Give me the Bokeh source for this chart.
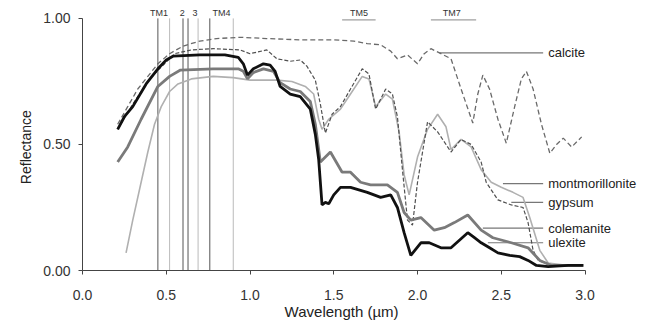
from bokeh.plotting import figure
from bokeh.models import Range1d, FixedTicker, NumeralTickFormatter, Label
from bokeh.embed import file_html
from bokeh.resources import INLINE

# ---------------- data ----------------
calcite_x = [0.21, 0.27, 0.33, 0.39, 0.45, 0.52, 0.60, 0.70, 0.80, 0.95, 1.10, 1.30, 1.50, 1.62, 1.70, 1.78, 1.84, 1.88, 1.94, 2.00, 2.04, 2.08, 2.14, 2.20, 2.26, 2.33, 2.36, 2.39, 2.43, 2.48, 2.53, 2.58, 2.62, 2.65, 2.69, 2.74, 2.79, 2.83, 2.87, 2.92, 2.98]
calcite_y = [0.58, 0.65, 0.72, 0.77, 0.82, 0.86, 0.89, 0.91, 0.92, 0.925, 0.92, 0.915, 0.915, 0.91, 0.90, 0.895, 0.87, 0.84, 0.855, 0.82, 0.86, 0.88, 0.86, 0.84, 0.72, 0.585, 0.70, 0.775, 0.72, 0.60, 0.505, 0.65, 0.76, 0.79, 0.72, 0.58, 0.465, 0.50, 0.525, 0.49, 0.53]

gypsum_x = [0.21, 0.30, 0.40, 0.49, 0.55, 0.65, 0.78, 0.94, 1.00, 1.10, 1.16, 1.24, 1.30, 1.34, 1.39, 1.42, 1.45, 1.49, 1.54, 1.60, 1.67, 1.71, 1.75, 1.81, 1.85, 1.88, 1.91, 1.94, 1.97, 2.00, 2.06, 2.12, 2.20, 2.26, 2.32, 2.38, 2.41, 2.48, 2.56, 2.63, 2.66, 2.69, 2.72, 2.80, 2.98]
gypsum_y = [0.56, 0.66, 0.76, 0.82, 0.86, 0.875, 0.88, 0.875, 0.86, 0.875, 0.84, 0.83, 0.835, 0.81, 0.755, 0.66, 0.545, 0.62, 0.65, 0.72, 0.80, 0.78, 0.64, 0.72, 0.70, 0.61, 0.40, 0.20, 0.18, 0.35, 0.59, 0.55, 0.47, 0.52, 0.50, 0.43, 0.35, 0.28, 0.26, 0.25, 0.19, 0.08, 0.04, 0.02, 0.02]

montm_x = [0.26, 0.30, 0.35, 0.39, 0.43, 0.47, 0.52, 0.57, 0.65, 0.78, 0.90, 1.00, 1.16, 1.25, 1.33, 1.38, 1.41, 1.43, 1.47, 1.54, 1.60, 1.67, 1.71, 1.75, 1.81, 1.85, 1.89, 1.92, 1.95, 2.00, 2.06, 2.12, 2.17, 2.20, 2.26, 2.32, 2.38, 2.44, 2.50, 2.57, 2.63, 2.67, 2.73, 2.78, 2.90, 2.98]
montm_y = [0.07, 0.20, 0.35, 0.47, 0.58, 0.65, 0.71, 0.74, 0.76, 0.77, 0.765, 0.755, 0.755, 0.75, 0.73, 0.70, 0.60, 0.56, 0.60, 0.64, 0.70, 0.77, 0.76, 0.65, 0.70, 0.68, 0.55, 0.38, 0.30, 0.45, 0.56, 0.62, 0.57, 0.48, 0.52, 0.49, 0.40, 0.35, 0.33, 0.31, 0.29, 0.21, 0.08, 0.03, 0.02, 0.02]

ulexite_x = [0.21, 0.25, 0.30, 0.38, 0.45, 0.50, 0.54, 0.70, 0.85, 0.93, 0.96, 0.985, 1.02, 1.08, 1.12, 1.15, 1.18, 1.24, 1.30, 1.36, 1.39, 1.41, 1.43, 1.45, 1.47, 1.50, 1.54, 1.60, 1.70, 1.78, 1.84, 1.88, 1.92, 1.96, 2.02, 2.07, 2.14, 2.20, 2.25, 2.30, 2.34, 2.38, 2.43, 2.48, 2.55, 2.61, 2.66, 2.71, 2.78, 2.90, 2.99]
ulexite_y = [0.56, 0.61, 0.65, 0.74, 0.80, 0.835, 0.85, 0.855, 0.855, 0.845, 0.82, 0.775, 0.80, 0.82, 0.815, 0.79, 0.73, 0.70, 0.69, 0.64, 0.54, 0.44, 0.26, 0.27, 0.265, 0.30, 0.33, 0.33, 0.31, 0.29, 0.30, 0.25, 0.15, 0.06, 0.11, 0.11, 0.09, 0.09, 0.12, 0.15, 0.13, 0.11, 0.09, 0.07, 0.06, 0.055, 0.04, 0.02, 0.015, 0.02, 0.02]

colem_x = [0.21, 0.27, 0.35, 0.45, 0.52, 0.585, 0.78, 0.93, 0.96, 0.985, 1.02, 1.08, 1.14, 1.18, 1.24, 1.30, 1.36, 1.39, 1.42, 1.45, 1.48, 1.55, 1.60, 1.66, 1.72, 1.82, 1.88, 1.92, 1.96, 2.02, 2.10, 2.16, 2.22, 2.30, 2.38, 2.45, 2.56, 2.66, 2.73, 2.80, 2.99]
colem_y = [0.43, 0.49, 0.60, 0.73, 0.77, 0.795, 0.80, 0.80, 0.79, 0.76, 0.785, 0.80, 0.79, 0.745, 0.72, 0.71, 0.67, 0.58, 0.43, 0.45, 0.47, 0.39, 0.39, 0.35, 0.34, 0.34, 0.31, 0.23, 0.20, 0.21, 0.16, 0.17, 0.19, 0.22, 0.16, 0.13, 0.11, 0.09, 0.04, 0.02, 0.02]

# TM band edges (um) and whether drawn dark
band_edges = [0.45, 0.52, 0.60, 0.63, 0.69, 0.76, 0.90]
band_dark = [True, False, True, True, False, True, False]
band_labels = ["TM1", "2", "3", "TM4", "TM5", "TM7"]
band_label_x = [0.457, 0.595, 0.672, 0.83, 1.65, 2.205]
swir_bar_x0 = [1.55, 2.08]
swir_bar_x1 = [1.75, 2.35]

mineral_names = ["calcite", "montmorillonite", "gypsum", "colemanite", "ulexite"]
leader_y = [0.863, 0.345, 0.27, 0.168, 0.11]
leader_x0 = [2.13, 2.51, 2.56, 2.39, 2.42]
leader_x1 = [2.75, 2.75, 2.75, 2.75, 2.75]

x_ticks = [0.0, 0.5, 1.0, 1.5, 2.0, 2.5, 3.0]
y_ticks = [0.0, 0.5, 1.0]

FONT = "Liberation Sans"
NBSP = "\u00a0"

p = figure(width=646, height=322, output_backend="svg", toolbar_location=None,
           x_range=Range1d(0, 3.367), y_range=Range1d(0, 1.071),
           min_border_left=82, min_border_right=0, min_border_top=0, min_border_bottom=52)
p.outline_line_color = None
p.xgrid.grid_line_color = None
p.ygrid.grid_line_color = None
p.background_fill_color = "white"

# band lines
for bx, dark in zip(band_edges, band_dark):
    p.segment(x0=[bx], y0=[0], x1=[bx], y1=[1.0],
              line_color="#555555" if dark else "#bbbbbb", line_width=1)
p.segment(x0=swir_bar_x0, y0=[0.994] * 2, x1=swir_bar_x1, y1=[0.994] * 2,
          line_color="#888888", line_width=1)

# leader lines
p.segment(x0=leader_x0, y0=leader_y, x1=leader_x1, y1=leader_y, line_color="#777777", line_width=1.2)

# spectra
p.line(montm_x, montm_y, line_color="#b0b0b0", line_width=1.6)
p.line(calcite_x, calcite_y, line_color="#6a6a6a", line_width=1.3, line_dash="5 3")
p.line(gypsum_x, gypsum_y, line_color="#505050", line_width=1.2, line_dash="4 2")
p.line(colem_x, colem_y, line_color="#7a7a7a", line_width=2.8)
p.line(ulexite_x, ulexite_y, line_color="#111111", line_width=2.8)

# labels
for name, ly in zip(mineral_names, leader_y):
    p.add_layout(Label(x=2.78, y=ly, text=name, text_font=FONT, text_font_size="13px",
                       text_color="#222222", text_baseline="middle", text_align="left"))
for name, lx in zip(band_labels, band_label_x):
    p.add_layout(Label(x=lx, y=1.022, text=name, text_font=FONT, text_font_size="9px",
                       text_color="#333333", text_baseline="middle", text_align="center"))

# axes
p.xaxis.ticker = FixedTicker(ticks=x_ticks)
p.yaxis.ticker = FixedTicker(ticks=y_ticks)
p.xaxis.bounds = (0, 3.0)
p.yaxis.bounds = (0, 1.0)
p.xaxis.formatter = NumeralTickFormatter(format="0.0")
p.yaxis.formatter = NumeralTickFormatter(format="0.00")
for ax in (p.xaxis, p.yaxis):
    ax.axis_line_color = "#444444"
    ax.major_tick_line_color = "#444444"
    ax.minor_tick_line_color = None
    ax.major_tick_in = 0
    ax.major_tick_out = 4
    ax.major_label_text_font = FONT
    ax.major_label_text_font_size = "14px"
    ax.major_label_text_color = "#333333"
    ax.axis_label_text_font = FONT
    ax.axis_label_text_font_style = "normal"
    ax.axis_label_text_color = "#222222"
# axis labels are centred on the whole frame; pad so the visible text centres on the data area
p.yaxis.axis_label = "Reflectance" + NBSP * 6
p.yaxis.axis_label_text_font_size = "14px"
p.yaxis.axis_label_standoff = 6
p.yaxis.major_label_standoff = 8
p.xaxis.axis_label = "Wavelength (µm)" + NBSP * 11
p.xaxis.axis_label_text_font_size = "15px"
p.xaxis.axis_label_standoff = 0
p.xaxis.major_label_standoff = 15

open("out.html", "w").write(file_html(p, INLINE))
